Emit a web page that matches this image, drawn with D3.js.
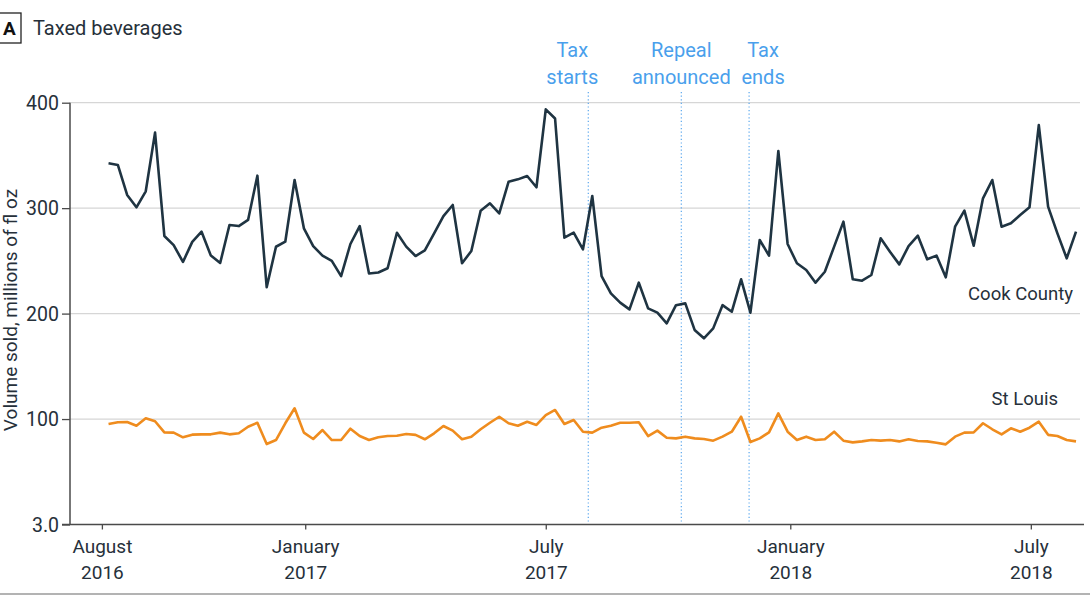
<!DOCTYPE html>
<html>
<head>
<meta charset="utf-8">
<script src="https://cdn.jsdelivr.net/npm/d3@7"></script>
<style>
  html, body { margin: 0; padding: 0; background: #ffffff; }
  svg { display: block; }
  text { font-family: Roboto, "Open Sans", sans-serif; }
</style>
</head>
<body>
<svg id="chart" width="1090" height="595"></svg>
<script>
// ---------------- DATA ----------------
const firstWeek = "2016-08-06";   // week ending dates, weekly
const cookCounty = [342.5, 341, 312.5, 300.8, 316, 371.6, 273.6, 265, 249, 268, 277.7, 255, 248, 284, 283, 288.8, 330.8, 225, 263.4, 268.2, 326.7, 280.9, 264, 255, 250, 235.6,
  266, 283, 238, 239, 243, 276.7, 263.5, 254.6, 260, 276, 292.5, 303, 247.7, 259.4, 297.6, 304.6, 295, 325, 327.3, 330.5, 319.8, 393.7, 385, 272, 276.7,
  261, 311.5, 235.6, 219.2, 210.4, 204, 229.3, 205, 200.9, 190.8, 208, 209.7, 184.5, 176.6, 186, 208, 201.8, 232.5, 200.9, 269.8, 255, 354.2, 266, 247.7, 241.3, 229.3,
  239.7, 263.5, 287.2, 232.5, 231.2, 236.6, 271.4, 258.7, 246.7, 264, 273.9, 251.5, 255, 234.4, 282.4, 297.6, 264.4, 309.3, 326.7, 282.4, 285.6, 293.5, 300.8, 378.8, 301.4, 276.1, 252.4, 277.7];
const stLouis = [95.3, 96.9, 97.2, 93.7, 100.7, 97.9, 87.4, 87.1, 82.7, 85.2, 85.5, 85.5, 87.1, 85.5, 86.5, 92.7, 96.5, 76.3, 80.1, 96,
  110.2, 87.1, 81.1, 89.6, 80.1, 80.1, 90.9, 83.9, 80.1, 82.7, 83.9, 84.2, 85.8, 85, 80.8, 86.5, 93.4, 89, 80.8, 83.3,
  90.3, 96.5, 102.2, 96, 93.7, 97.5, 94.4, 103.8, 108.6, 95.3, 99.1, 88,
  87.1, 91.8, 93.7, 96.5, 96.5, 96.9, 83.9, 89, 82.3, 81.7, 83.3, 81.7, 81.1, 79.5, 83.3, 88, 102.2, 78.2, 81.7, 87.4, 105.4, 88, 80.1, 83.3, 80.1,
  80.8, 88, 79.5, 77.9, 78.8, 80.1, 79.5, 80.1, 78.8, 80.8, 79.2, 78.8, 77.6, 76, 83.3, 87.1, 87.4, 96, 90.3, 85.5, 91.2, 88, 91.8, 97.5, 85, 83.9, 80.1, 78.8];
const seriesNames = ["Cook County", "St Louis"];

const xTickDates = ["2016-08-01", "2017-01-01", "2017-07-01", "2018-01-01", "2018-07-01"];
const xTickMonths = ["August", "January", "July", "January", "July"];
const xTickYears = ["2016", "2017", "2017", "2018", "2018"];

const yTickValues = [0, 100, 200, 300, 400];
const yTickLabels = ["3.0", "100", "200", "300", "400"];

const eventDates = ["2017-08-02", "2017-10-11", "2017-12-01"];
const eventLabels = [["Tax", "starts"], ["Repeal", "announced"], ["Tax", "ends"]];

const panelLetter = "A";
const title = "Taxed beverages";
const yTitle = "Volume sold, millions of fl oz";

// ---------------- CHART ----------------
const svg = d3.select("#chart");
const parse = d3.utcParse("%Y-%m-%d");
const start = parse(firstWeek);
const dates = cookCounty.map((_, i) => d3.utcDay.offset(start, 7 * i));

const x = d3.scaleUtc()
  .domain([parse("2016-07-08"), parse("2018-08-07")])
  .range([70, 1080]);
const y = d3.scaleLinear().domain([0, 400]).range([524.5, 102.7]);

const textColor = "#26303a";
const axisColor = "#4a4a4a";

// gridlines
svg.append("g").selectAll("line")
  .data(yTickValues.filter(v => v > 0))
  .join("line")
  .attr("x1", 70).attr("x2", 1080)
  .attr("y1", d => y(d)).attr("y2", d => y(d))
  .attr("stroke", "#d6d6d6").attr("stroke-width", 1.3);

// event lines
const evG = svg.append("g");
evG.selectAll("line")
  .data(eventDates)
  .join("line")
  .attr("x1", d => x(parse(d))).attr("x2", d => x(parse(d)))
  .attr("y1", 92).attr("y2", 524)
  .attr("stroke", "#5aa7ee").attr("stroke-width", 1.2)
  .attr("stroke-dasharray", "1.2,2.4");

const evOffsets = [-16, 0, 14];
eventLabels.forEach((lines, i) => {
  const t = evG.append("text")
    .attr("x", x(parse(eventDates[i])) + evOffsets[i])
    .attr("text-anchor", "middle")
    .attr("fill", "#4a9fec")
    .style("font-size", "20px");
  lines.forEach((ln, j) => {
    t.append("tspan").attr("x", x(parse(eventDates[i])) + evOffsets[i])
      .attr("y", 57 + j * 26.5).text(ln);
  });
});

// y axis
const yAxis = d3.axisLeft(y)
  .tickValues(yTickValues)
  .tickFormat((d, i) => yTickLabels[i])
  .tickSize(8).tickPadding(3);
const yg = svg.append("g").attr("transform", "translate(70,0)").call(yAxis);
yg.select(".domain").attr("stroke", axisColor).attr("stroke-width", 1.5).attr("d", "M0,102.7V524.5");
yg.selectAll(".tick line").attr("stroke", axisColor).attr("stroke-width", 1.3);
yg.selectAll(".tick text").attr("fill", textColor).style("font-size", "19.5px")
  .style("font-family", "Roboto, sans-serif").attr("dy", "0.34em");

// x axis
const xAxis = d3.axisBottom(x)
  .tickValues(xTickDates.map(parse))
  .tickFormat("")
  .tickSize(5);
const xg = svg.append("g").attr("transform", "translate(0,524.5)").call(xAxis);
xg.select(".domain").attr("stroke", axisColor).attr("stroke-width", 1.5).attr("d", "M62,0H1084");
xg.selectAll(".tick line").attr("stroke", axisColor).attr("stroke-width", 1.3);
xg.selectAll(".tick").append("text")
  .attr("y", 28).attr("fill", textColor).attr("text-anchor", "middle")
  .style("font-size", "19px")
  .text((d, i) => xTickMonths[i]);
xg.selectAll(".tick").append("text")
  .attr("y", 54).attr("fill", textColor).attr("text-anchor", "middle")
  .style("font-size", "19px")
  .text((d, i) => xTickYears[i]);

// y title
svg.append("text")
  .attr("transform", "translate(17,310) rotate(-90)")
  .attr("text-anchor", "middle")
  .attr("fill", textColor)
  .style("font-size", "19px")
  .text(yTitle);

// lines
const line = d3.line()
  .x((d, i) => x(dates[i]))
  .y(d => y(d));

svg.append("path").datum(stLouis)
  .attr("d", line).attr("fill", "none")
  .attr("stroke", "#ef8c1e").attr("stroke-width", 2.6)
  .attr("stroke-linejoin", "round");

svg.append("path").datum(cookCounty)
  .attr("d", line).attr("fill", "none")
  .attr("stroke", "#1f3442").attr("stroke-width", 2.6)
  .attr("stroke-linejoin", "round");

// series labels
svg.append("text").attr("x", 1073).attr("y", 300).attr("text-anchor", "end")
  .attr("fill", textColor).style("font-size", "18.5px").text(seriesNames[0]);
svg.append("text").attr("x", 1058).attr("y", 405).attr("text-anchor", "end")
  .attr("fill", textColor).style("font-size", "18.5px").text(seriesNames[1]);

// panel letter and title
svg.append("rect").attr("x", -1).attr("y", 13).attr("width", 22).attr("height", 30)
  .attr("fill", "none").attr("stroke", "#222").attr("stroke-width", 1.3);
svg.append("text").attr("x", 9.5).attr("y", 35).attr("text-anchor", "middle")
  .attr("fill", "#111").style("font-size", "19px").style("font-weight", "bold").text(panelLetter);
svg.append("text").attr("x", 33).attr("y", 34.5)
  .attr("fill", textColor).style("font-size", "20px").text(title);

// bottom rule
svg.append("line").attr("x1", 0).attr("x2", 1090).attr("y1", 594).attr("y2", 594)
  .attr("stroke", "#9a9a9a").attr("stroke-width", 1.5);
</script>
</body>
</html>
